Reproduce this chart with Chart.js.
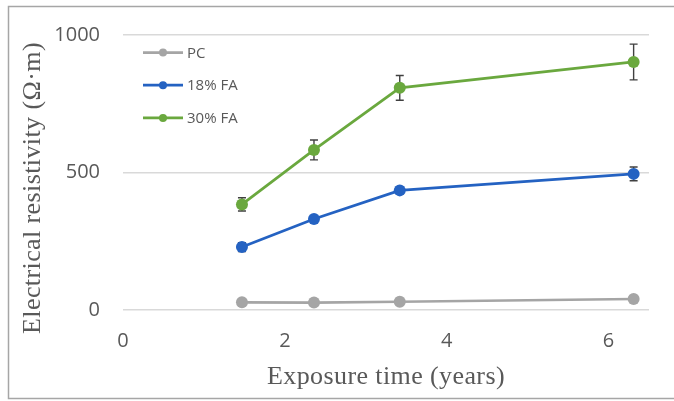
<!DOCTYPE html>
<html>
<head>
<meta charset="utf-8">
<script src="https://cdn.jsdelivr.net/npm/chart.js@4"></script>
<style>
  html, body { margin: 0; padding: 0; background: #fff; }
  #wrap { width: 674px; height: 401px; }
</style>
</head>
<body>
<div id="wrap"><canvas id="resChart" width="674" height="401"></canvas></div>
<script>
// exposure times (years) and resistivity readings
const years = [1.47, 2.36, 3.42, 6.31];
const seriesNames = ['PC', '18% FA', '30% FA'];
const pc = [28, 27, 30, 40];
const fa18 = [229, 331, 435, 495];
const fa30 = [384, 582, 808, 902];
const pcErr = [4, 4, 4, 5];
const fa18Err = [16, 10, 12, 25];
const fa30Err = [24, 36, 45, 65];
const xTicks = [0, 2, 4, 6];
const yTicks = [0, 500, 1000];

const colors = ['#a5a5a5', '#2462c2', '#6aa83e'];
const tickColor = '#595959';

function toPoints(vals) {
  return vals.map((v, i) => ({ x: years[i], y: v }));
}

const errors = [pcErr, fa18Err, fa30Err];

// vertical error bars with caps, drawn under the markers
const errorBars = {
  id: 'errorBars',
  beforeDatasetsDraw(chart) {
    const ctx = chart.ctx;
    const xs = chart.scales.x, ys = chart.scales.y;
    ctx.save();
    ctx.strokeStyle = '#404040';
    ctx.lineWidth = 1.4;
    chart.data.datasets.forEach((ds, di) => {
      ds.data.forEach((p, i) => {
        const e = errors[di][i];
        const px = xs.getPixelForValue(p.x);
        const top = ys.getPixelForValue(p.y + e);
        const bot = ys.getPixelForValue(p.y - e);
        ctx.beginPath();
        ctx.moveTo(px, top); ctx.lineTo(px, bot);
        ctx.moveTo(px - 4, top); ctx.lineTo(px + 4, top);
        ctx.moveTo(px - 4, bot); ctx.lineTo(px + 4, bot);
        ctx.stroke();
      });
    });
    ctx.restore();
  }
};

// frame, legend and axis titles
const decorations = {
  id: 'decorations',
  afterDraw(chart) {
    const ctx = chart.ctx;
    const area = chart.chartArea;
    ctx.save();

    ctx.strokeStyle = '#a6a6a6';
    ctx.lineWidth = 1.5;
    ctx.beginPath();
    ctx.moveTo(680, 6.5);
    ctx.lineTo(8.5, 6.5);
    ctx.lineTo(8.5, 398.5);
    ctx.lineTo(680, 398.5);
    ctx.stroke();

    // legend, inside the plot at top left
    ctx.font = '15px "Open Sans"';
    ctx.textBaseline = 'middle';
    ctx.textAlign = 'left';
    chart.data.datasets.forEach((ds, i) => {
      const y = 52.5 + i * 32.7;
      ctx.strokeStyle = ds.borderColor;
      ctx.lineWidth = 2.75;
      ctx.beginPath();
      ctx.moveTo(143, y); ctx.lineTo(183, y);
      ctx.stroke();
      ctx.fillStyle = ds.borderColor;
      ctx.beginPath();
      ctx.arc(163, y, 4, 0, Math.PI * 2);
      ctx.fill();
      ctx.fillStyle = tickColor;
      ctx.fillText(ds.label, 187, y + 1);
    });

    // axis titles
    ctx.fillStyle = tickColor;
    ctx.font = '26px "Liberation Serif"';
    ctx.letterSpacing = '0.4px';
    ctx.textAlign = 'center';
    ctx.textBaseline = 'middle';
    ctx.fillText('Exposure time (years)', (area.left + area.right) / 2, 377);
    ctx.translate(33, 188);
    ctx.rotate(-Math.PI / 2);
    ctx.fillText('Electrical resistivity (Ω·m)', 0, 0);
    ctx.restore();
  }
};

const datasets = [pc, fa18, fa30].map((vals, i) => ({
  label: seriesNames[i],
  data: toPoints(vals),
  borderColor: colors[i],
  backgroundColor: colors[i],
  borderWidth: 2.75,
  pointRadius: 6,
  pointHoverRadius: 6,
  pointBorderWidth: 0,
  tension: 0
}));

new Chart(document.getElementById('resChart'), {
  type: 'line',
  data: { datasets },
  options: {
    responsive: false,
    devicePixelRatio: 1,
    animation: false,
    layout: { padding: { top: 34, right: 25, left: 0, bottom: 0 } },
    plugins: {
      legend: { display: false },
      tooltip: { enabled: false }
    },
    scales: {
      x: {
        type: 'linear',
        min: 0,
        max: 6.5,
        afterBuildTicks: s => { s.ticks = xTicks.map(v => ({ value: v })); },
        afterFit: s => { s.height = 91; },
        grid: { display: false },
        border: { display: false },
        ticks: { color: tickColor, font: { family: 'Open Sans', size: 20 }, padding: 11, maxRotation: 0 }
      },
      y: {
        min: 0,
        max: 1000,
        afterBuildTicks: s => { s.ticks = yTicks.map(v => ({ value: v })); },
        afterFit: s => { s.width = 123; },
        grid: { color: '#d9d9d9', lineWidth: 1.5, drawTicks: false },
        border: { display: false },
        ticks: {
          color: tickColor,
          font: { family: 'Open Sans', size: 20 },
          padding: 23,
          callback: v => String(v)
        }
      }
    }
  },
  plugins: [errorBars, decorations]
});
</script>
</body>
</html>
